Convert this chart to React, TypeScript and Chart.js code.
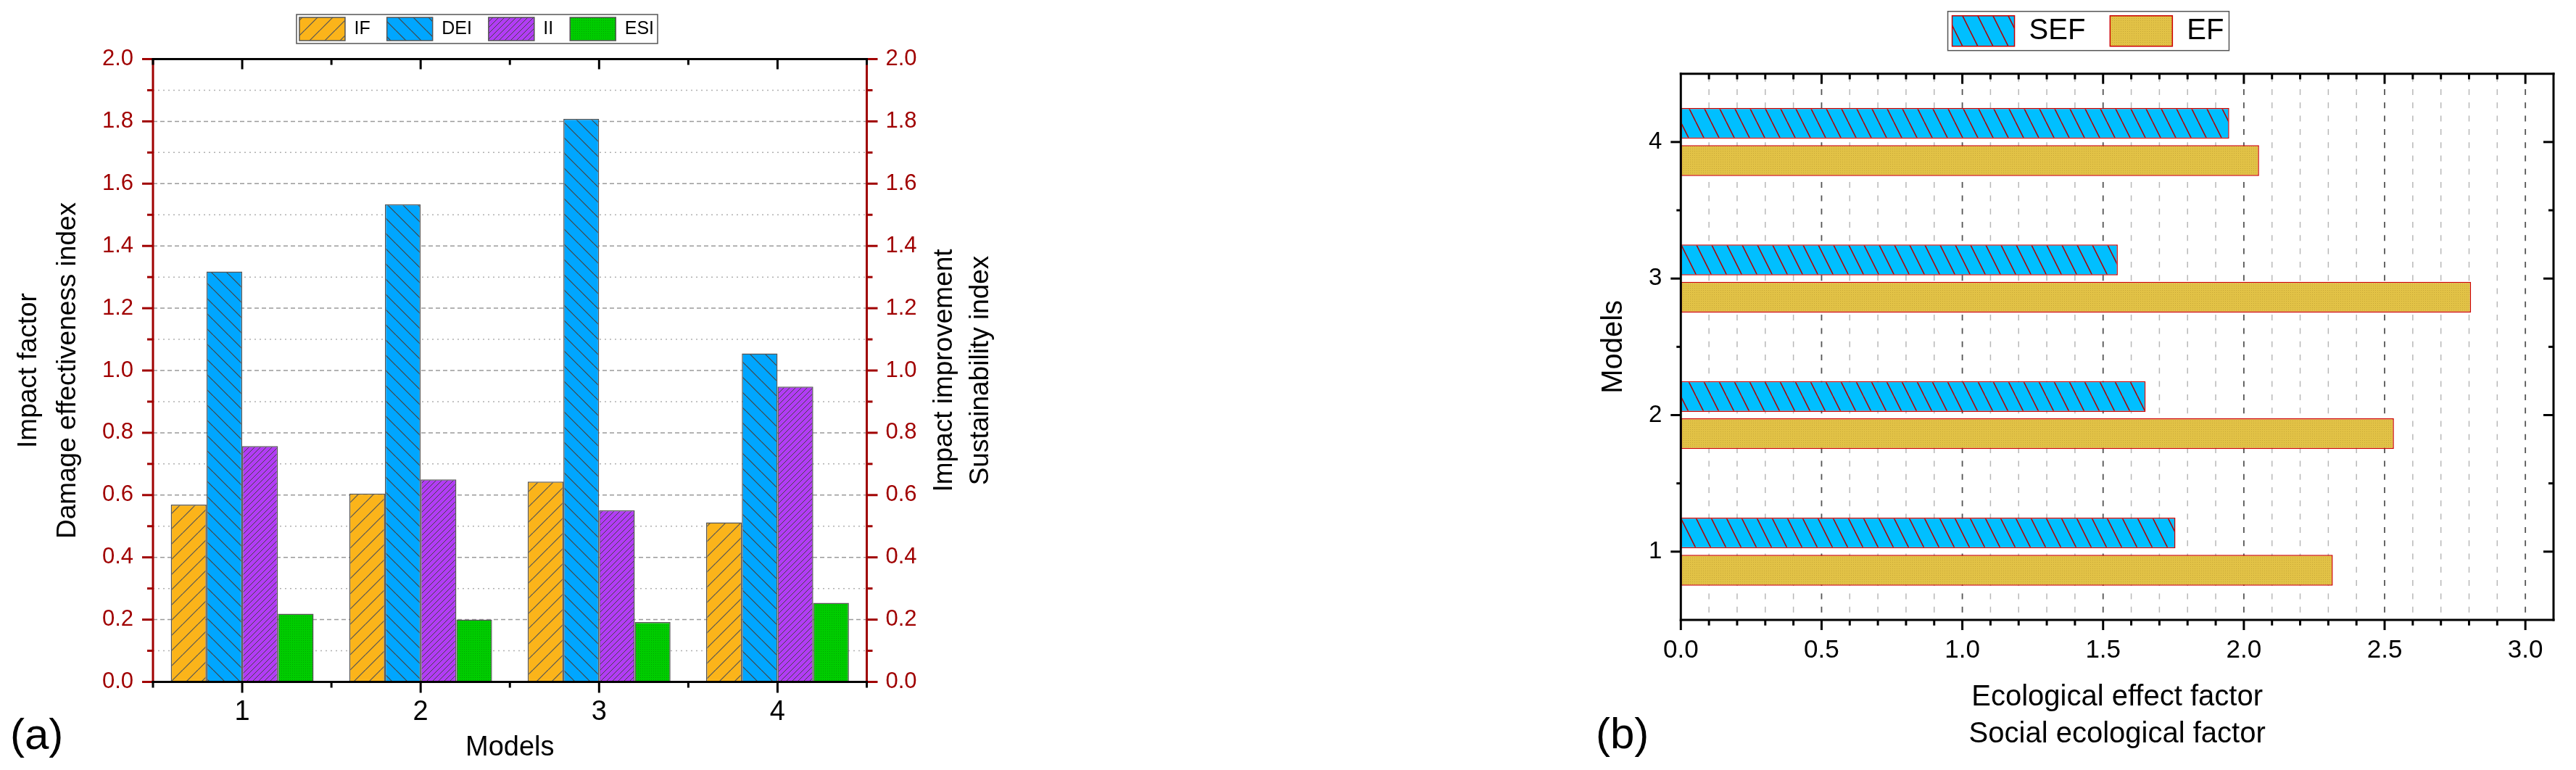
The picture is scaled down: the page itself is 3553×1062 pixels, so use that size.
import React, { useEffect, useRef } from 'react';
import { Chart, registerables } from 'chart.js';

Chart.register(...registerables);

const FONT = "'Liberation Sans', Arial, Helvetica, sans-serif";
Chart.defaults.font.family = FONT;

// ---------- Chart (a) data ----------
const modelsA = ['1', '2', '3', '4'];
const ifValues = [0.569, 0.605, 0.643, 0.512];
const deiValues = [1.318, 1.534, 1.808, 1.055];
const iiValues = [0.757, 0.65, 0.551, 0.948];
const esiValues = [0.219, 0.2, 0.192, 0.254];
const yTickValuesA = [0, 0.2, 0.4, 0.6, 0.8, 1.0, 1.2, 1.4, 1.6, 1.8, 2.0];
const yMinorValuesA = [0.1, 0.3, 0.5, 0.7, 0.9, 1.1, 1.3, 1.5, 1.7, 1.9];

// ---------- Chart (b) data ----------
const modelsB = ['1', '2', '3', '4'];
const sefValues = [1.757, 1.651, 1.552, 1.948];
const efValues = [2.316, 2.533, 2.807, 2.054];
const xTickValuesB = [0, 0.5, 1.0, 1.5, 2.0, 2.5, 3.0];

const RED = '#A00000';

function hatchTile(ctx: CanvasRenderingContext2D, bg: string, lineColor: string, lw: number, w: number, h: number, dir: string) {
  const c = document.createElement('canvas');
  c.width = w;
  c.height = h;
  const g = c.getContext('2d')!;
  g.fillStyle = bg;
  g.fillRect(0, 0, w, h);
  g.strokeStyle = lineColor;
  g.lineWidth = lw;
  for (const off of [-w, 0, w]) {
    g.beginPath();
    if (dir === '/') {
      g.moveTo(off, h);
      g.lineTo(off + w, 0);
    } else {
      g.moveTo(off, 0);
      g.lineTo(off + w, h);
    }
    g.stroke();
  }
  return ctx.createPattern(c, 'repeat')!;
}

function textureTile(ctx: CanvasRenderingContext2D, bg: string, dot: string) {
  const c = document.createElement('canvas');
  c.width = 3;
  c.height = 3;
  const g = c.getContext('2d')!;
  g.fillStyle = bg;
  g.fillRect(0, 0, 3, 3);
  g.fillStyle = dot;
  g.fillRect(1, 1, 1, 1);
  return ctx.createPattern(c, 'repeat')!;
}

function seg(ctx: CanvasRenderingContext2D, x1: number, y1: number, x2: number, y2: number) {
  ctx.beginPath();
  ctx.moveTo(x1, y1);
  ctx.lineTo(x2, y2);
  ctx.stroke();
}

function legendBorder(chart: any, mx: number, my: number) {
  const lg = chart.legend;
  if (!lg || !lg.legendHitBoxes || !lg.legendHitBoxes.length) return;
  const hb = lg.legendHitBoxes;
  const first = hb[0];
  const last = hb[hb.length - 1];
  const ctx = chart.ctx;
  ctx.save();
  ctx.strokeStyle = '#555';
  ctx.lineWidth = 1.5;
  ctx.setLineDash([]);
  ctx.strokeRect(first.left - mx, first.top - my, last.left + last.width + mx + 1 - (first.left - mx), first.height + 2 * my);
  ctx.restore();
}

const pluginA = {
  id: 'frameA',
  beforeDatasetsDraw(chart: any) {
    const { ctx, chartArea: a } = chart;
    const y = chart.scales.y;
    ctx.save();
    ctx.lineWidth = 1.5;
    ctx.strokeStyle = '#9a9a9a';
    ctx.setLineDash([6, 4]);
    for (const v of yTickValuesA) {
      if (v <= 0 || v >= 2) continue;
      const py = y.getPixelForValue(v);
      seg(ctx, a.left, py, a.right, py);
    }
    ctx.strokeStyle = '#b0b0b0';
    ctx.setLineDash([2, 5]);
    for (const v of yMinorValuesA) {
      const py = y.getPixelForValue(v);
      seg(ctx, a.left, py, a.right, py);
    }
    ctx.restore();
  },
  afterDraw(chart: any) {
    const { ctx, chartArea: a } = chart;
    const y = chart.scales.y;
    const x = chart.scales.x;
    ctx.save();
    ctx.setLineDash([]);
    ctx.lineWidth = 3;
    ctx.lineCap = 'butt';
    ctx.strokeStyle = RED;
    seg(ctx, a.left, a.top - 1.5, a.left, a.bottom + 1.5);
    seg(ctx, a.right, a.top - 1.5, a.right, a.bottom + 1.5);
    for (const v of yTickValuesA) {
      const py = y.getPixelForValue(v);
      seg(ctx, a.left, py, a.left - 15, py);
      seg(ctx, a.right, py, a.right + 15, py);
    }
    for (const v of yMinorValuesA) {
      const py = y.getPixelForValue(v);
      seg(ctx, a.left, py, a.left - 8, py);
      seg(ctx, a.right, py, a.right + 8, py);
    }
    ctx.strokeStyle = '#000';
    seg(ctx, a.left - 1.5, a.bottom, a.right + 1.5, a.bottom);
    seg(ctx, a.left - 1.5, a.top, a.right + 1.5, a.top);
    for (let i = 0; i < modelsA.length; i++) {
      const px = x.getPixelForValue(i);
      seg(ctx, px, a.bottom, px, a.bottom + 15);
      seg(ctx, px, a.top, px, a.top + 14);
    }
    for (let i = 0; i <= modelsA.length; i++) {
      const px = x.getPixelForValue(i - 0.5);
      seg(ctx, px, a.bottom, px, a.bottom + 8);
      seg(ctx, px, a.top, px, a.top + 8);
    }
    ctx.fillStyle = '#000';
    ctx.font = `37px ${FONT}`;
    ctx.textAlign = 'center';
    ctx.textBaseline = 'alphabetic';
    const cy = (a.top + a.bottom) / 2;
    ctx.translate(1313, cy);
    ctx.rotate(-Math.PI / 2);
    ctx.fillText('Impact improvement', 0, 0);
    ctx.fillText('Sustainability index', 0, 49.7);
    ctx.restore();
    ctx.save();
    ctx.fillStyle = '#000';
    ctx.font = `60px ${FONT}`;
    ctx.textAlign = 'left';
    ctx.textBaseline = 'alphabetic';
    ctx.fillText('(a)', 14, 1033);
    ctx.restore();
    legendBorder(chart, 4, 4);
  },
};

const pluginB = {
  id: 'frameB',
  beforeDatasetsDraw(chart: any) {
    const { ctx, chartArea: a } = chart;
    const x = chart.scales.x;
    ctx.save();
    ctx.setLineDash([8, 10.3]);
    ctx.lineDashOffset = -3;
    for (let k = 1; k <= 30; k++) {
      const px = x.getPixelForValue(k / 10);
      const major = k % 5 === 0;
      ctx.strokeStyle = major ? '#555' : '#b8b8b8';
      ctx.lineWidth = major ? 1.8 : 1.5;
      seg(ctx, px, a.top, px, a.bottom);
    }
    ctx.restore();
  },
  afterDraw(chart: any) {
    const { ctx, chartArea: a } = chart;
    const x = chart.scales.x;
    const y = chart.scales.y;
    ctx.save();
    ctx.setLineDash([]);
    ctx.lineWidth = 3;
    ctx.strokeStyle = '#000';
    seg(ctx, a.left, a.top - 1.5, a.left, a.bottom + 1.5);
    seg(ctx, a.right, a.top - 1.5, a.right, a.bottom + 1.5);
    seg(ctx, a.left - 1.5, a.bottom, a.right + 1.5, a.bottom);
    seg(ctx, a.left - 1.5, a.top, a.right + 1.5, a.top);
    for (let k = 1; k <= 30; k++) {
      const v = k / 10;
      const px = x.getPixelForValue(v);
      const len = k % 5 === 0 ? 14 : 7.7;
      seg(ctx, px, a.bottom, px, a.bottom + len);
      seg(ctx, px, a.top, px, a.top + len);
    }
    seg(ctx, a.left, a.bottom, a.left, a.bottom + 14);
    for (let i = 0; i < modelsB.length; i++) {
      const py = y.getPixelForValue(i);
      seg(ctx, a.left, py, a.left - 14, py);
      seg(ctx, a.right, py, a.right - 14, py);
    }
    for (let i = 1; i < modelsB.length; i++) {
      const py = y.getPixelForValue(i - 0.5);
      seg(ctx, a.left, py, a.left - 6, py);
      seg(ctx, a.right, py, a.right - 7, py);
    }
    ctx.restore();
    ctx.save();
    ctx.fillStyle = '#000';
    ctx.font = `60px ${FONT}`;
    ctx.textAlign = 'left';
    ctx.textBaseline = 'alphabetic';
    ctx.fillText('(b)', 51, 1032);
    ctx.restore();
    legendBorder(chart, 6, 6);
  },
};

const hiddenAxis = (pos: string, size: number) => ({
  type: 'linear',
  position: pos,
  display: true,
  grid: { display: false, drawTicks: false },
  border: { display: false },
  ticks: { display: false },
  afterFit: (s: any) => {
    if (pos === 'top' || pos === 'bottom') s.height = size;
    else s.width = size;
  },
});

export default function App() {
  const refA = useRef<HTMLCanvasElement>(null);
  const refB = useRef<HTMLCanvasElement>(null);

  useEffect(() => {
    const ca = refA.current!;
    const cb = refB.current!;
    const gA = ca.getContext('2d')!;
    const gB = cb.getContext('2d')!;

    const pIF = hatchTile(gA, '#FBB41A', '#555', 1.2, 21, 21, '/');
    const pDEI = hatchTile(gA, '#00A6FF', '#444', 1.2, 21, 21, '\\');
    const pII = hatchTile(gA, '#B23CF5', '#444', 1.0, 8, 8, '/');
    const pESI = textureTile(gA, '#00CC00', '#00A800');
    const pSEF = hatchTile(gB, '#00BFFF', '#B00000', 1.6, 21, 42, '\\');
    const pEF = textureTile(gB, '#E2C246', '#C8A838');

    const barStyle = { borderColor: '#555', borderWidth: 1.5, borderSkipped: false, xAxisID: 'x', yAxisID: 'y' };

    const chartA = new Chart(ca, {
      type: 'bar',
      data: {
        labels: modelsA,
        datasets: [
          { label: 'IF', data: ifValues, backgroundColor: pIF, ...barStyle },
          { label: 'DEI', data: deiValues, backgroundColor: pDEI, ...barStyle },
          { label: 'II', data: iiValues, backgroundColor: pII, ...barStyle },
          { label: 'ESI', data: esiValues, backgroundColor: pESI, ...barStyle },
        ] as any,
      },
      options: {
        responsive: false,
        animation: false,
        devicePixelRatio: 1,
        layout: { padding: { left: 0, right: 85, top: 1, bottom: 0 } },
        datasets: { bar: { categoryPercentage: 0.8, barPercentage: 1.0 } },
        plugins: {
          legend: {
            position: 'top',
            labels: { font: { size: 25, family: FONT }, color: '#000', boxWidth: 63, boxHeight: 32, padding: 23 },
          },
          tooltip: { enabled: false },
        },
        scales: {
          x: {
            type: 'category',
            position: 'bottom',
            offset: true,
            grid: { display: false, drawTicks: false },
            border: { display: false },
            ticks: { font: { size: 38 }, color: '#000', padding: 19, maxRotation: 0 },
            title: { display: true, text: 'Models', color: '#000', font: { size: 38, lineHeight: 1.2 }, padding: { top: 0, bottom: 8 } },
            afterFit: (s: any) => { s.height = 121.5; },
          },
          xTop: hiddenAxis('top', 15.5),
          y: {
            type: 'linear',
            position: 'left',
            min: 0,
            max: 2,
            afterBuildTicks: (s: any) => { s.ticks = yTickValuesA.map((v) => ({ value: v })); },
            ticks: { callback: (v: any) => Number(v).toFixed(1), font: { size: 31 }, color: RED, padding: 27, autoSkip: false },
            grid: { display: false, drawTicks: false },
            border: { display: false },
            title: {
              display: true,
              text: ['Impact factor', 'Damage effectiveness index'],
              color: '#000',
              font: { size: 37, lineHeight: 1.45 },
              padding: { top: 13, bottom: 0 },
            },
            afterFit: (s: any) => { s.width = 211; },
          },
          y2: {
            type: 'linear',
            position: 'right',
            min: 0,
            max: 2,
            afterBuildTicks: (s: any) => { s.ticks = yTickValuesA.map((v) => ({ value: v })); },
            ticks: { callback: (v: any) => Number(v).toFixed(1), font: { size: 31 }, color: RED, padding: 26, autoSkip: false },
            grid: { display: false, drawTicks: false },
            border: { display: false },
            afterFit: (s: any) => { s.width = 119.5; },
          },
        } as any,
      },
      plugins: [pluginA],
    } as any);

    const barStyleB = { borderColor: '#CC0000', borderWidth: 1.5, borderSkipped: false, xAxisID: 'x', yAxisID: 'y' };

    const chartB = new Chart(cb, {
      type: 'bar',
      data: {
        labels: modelsB,
        datasets: [
          { label: 'SEF', data: sefValues, backgroundColor: pSEF, ...barStyleB },
          { label: 'EF', data: efValues, backgroundColor: pEF, ...barStyleB },
        ] as any,
      },
      options: {
        indexAxis: 'y',
        responsive: false,
        animation: false,
        devicePixelRatio: 1,
        layout: { padding: { left: 57, right: 0, top: -12.3, bottom: 0 } },
        datasets: { bar: { categoryPercentage: 0.545, barPercentage: 0.825 } },
        plugins: {
          legend: {
            position: 'top',
            labels: { font: { size: 40, family: FONT }, color: '#000', boxWidth: 86, boxHeight: 42, padding: 34 },
          },
          tooltip: { enabled: false },
        },
        scales: {
          x: {
            type: 'linear',
            position: 'bottom',
            min: 0,
            max: 3.1,
            afterBuildTicks: (s: any) => { s.ticks = xTickValuesB.map((v) => ({ value: v })); },
            ticks: { callback: (v: any) => Number(v).toFixed(1), font: { size: 35 }, color: '#000', padding: 21.5, autoSkip: false, maxRotation: 0 },
            grid: { display: false, drawTicks: false },
            border: { display: false },
            title: {
              display: true,
              text: ['Ecological effect factor', 'Social ecological factor'],
              color: '#000',
              font: { size: 40, lineHeight: 1.275 },
              padding: { top: 0, bottom: 23.5 },
            },
            afterFit: (s: any) => { s.height = 207; },
          },
          xTop: hiddenAxis('top', 28),
          y: {
            type: 'category',
            position: 'left',
            reverse: true,
            offset: true,
            ticks: { font: { size: 33 }, color: '#000', padding: 26 },
            grid: { display: false, drawTicks: false },
            border: { display: false },
            title: { display: true, text: 'Models', color: '#000', font: { size: 40, lineHeight: 1 }, padding: { top: -1, bottom: 0 } },
            afterFit: (s: any) => { s.width = 111.3; },
          },
          yR: hiddenAxis('right', 31),
        } as any,
      },
      plugins: [pluginB],
    } as any);

    return () => {
      chartA.destroy();
      chartB.destroy();
    };
  }, []);

  return (
    <div style={{ position: 'absolute', left: 0, top: 0, width: 3553, height: 1062, background: '#fff', overflow: 'hidden' }}>
      <canvas ref={refA} width={1400} height={1062} style={{ position: 'absolute', left: 0, top: 0, width: 1400, height: 1062 }} />
      <canvas ref={refB} width={1403} height={1062} style={{ position: 'absolute', left: 2150, top: 0, width: 1403, height: 1062 }} />
    </div>
  );
}
